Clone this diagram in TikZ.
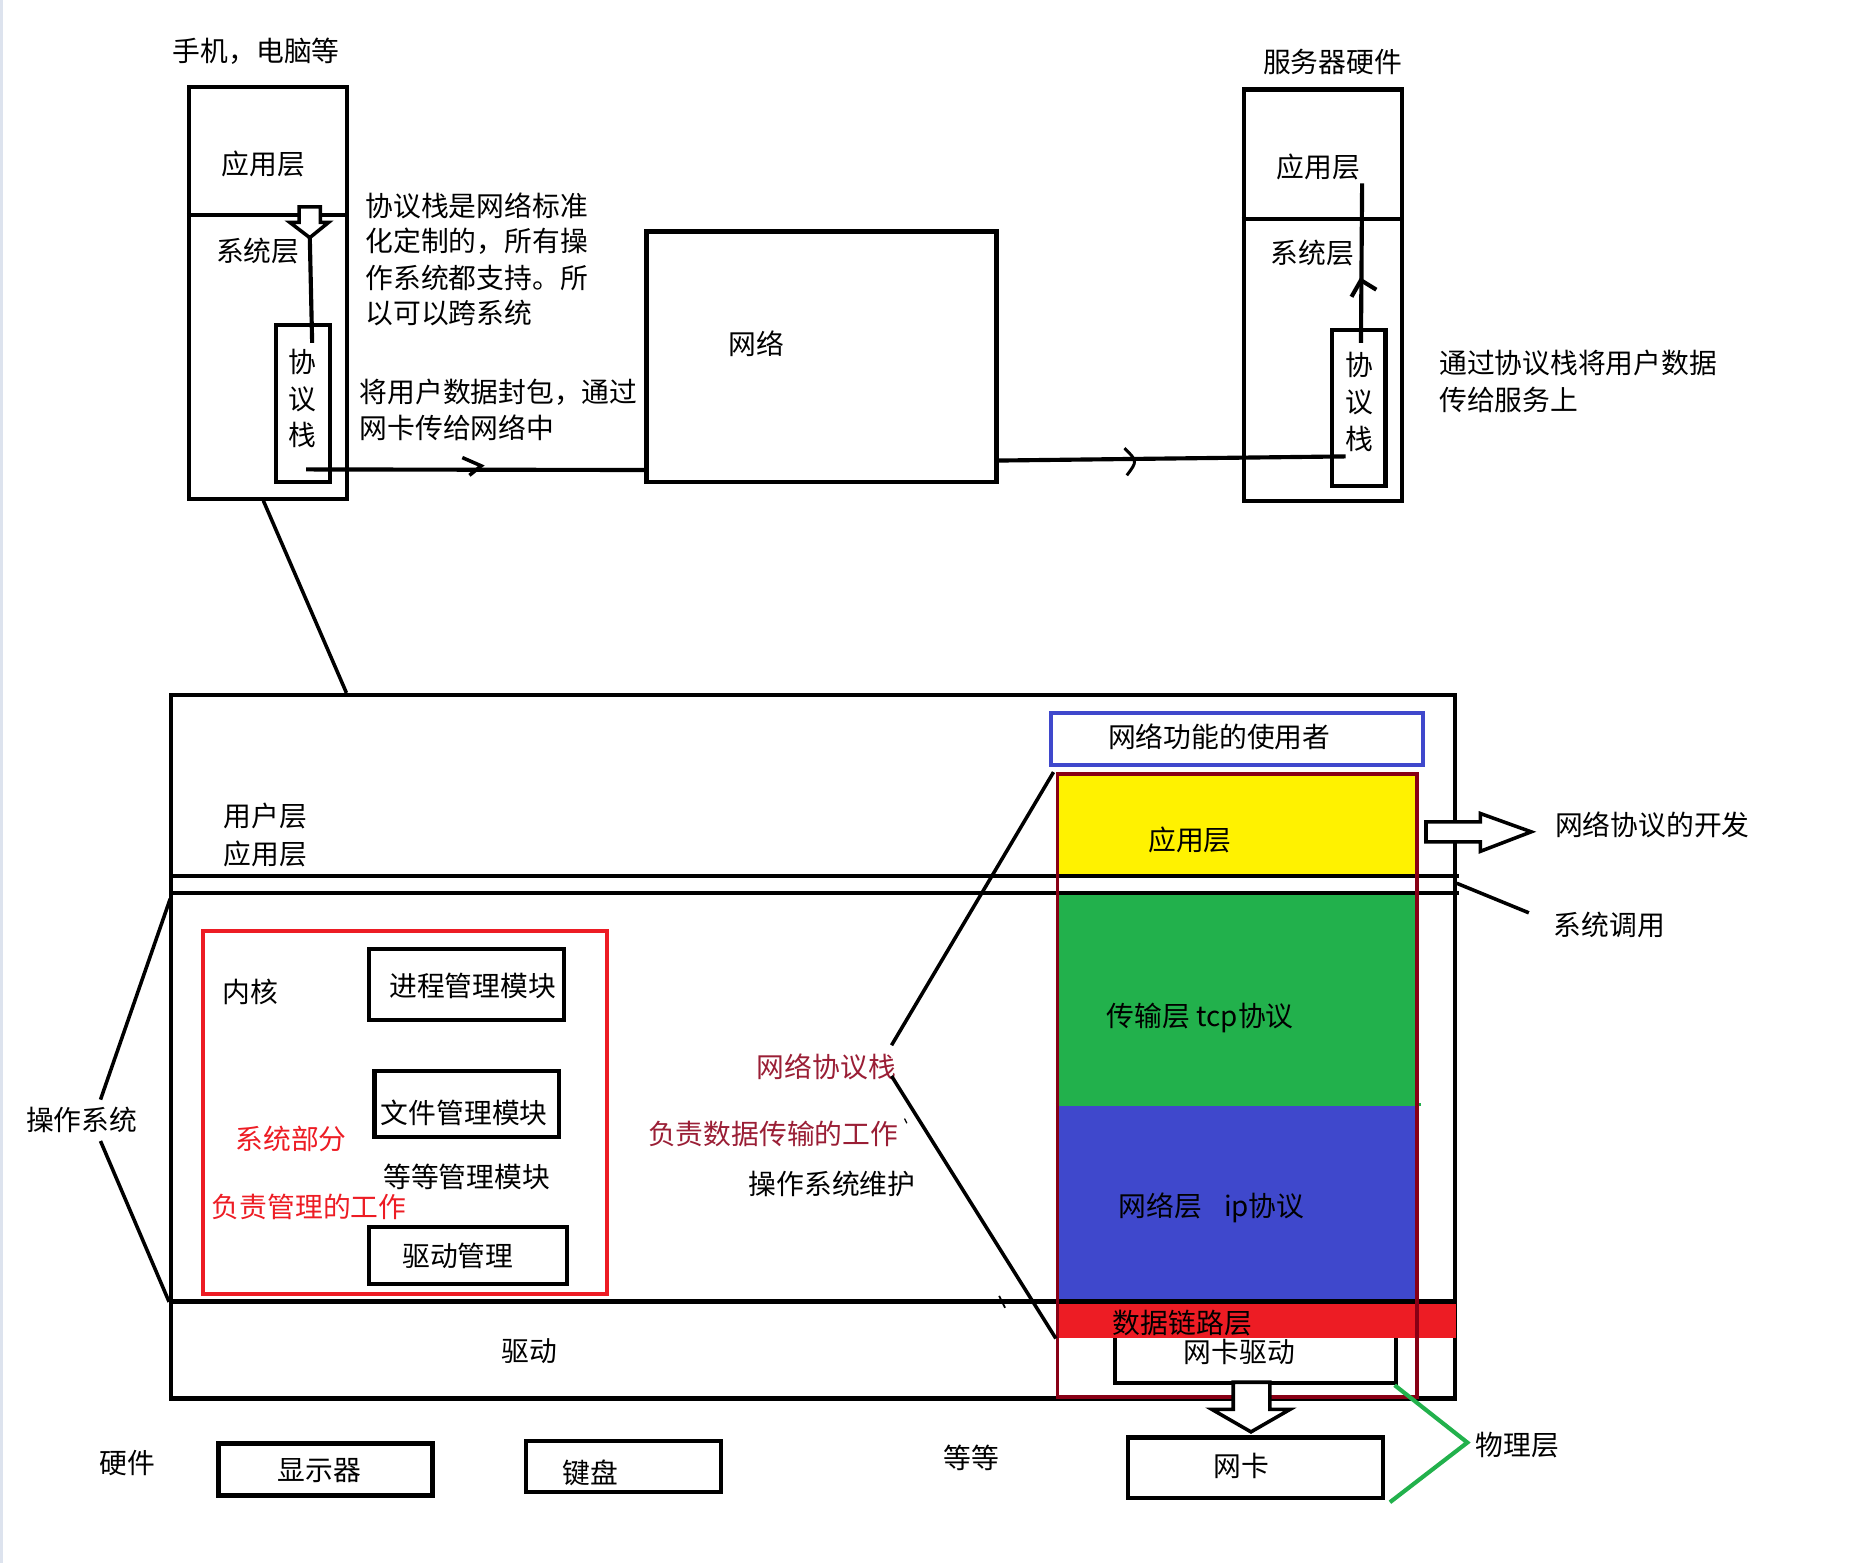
\documentclass[tikz,border=0pt]{standalone}
\usepackage{fontspec}
\newfontfamily\cjk{Noto Sans CJK SC}
\newcommand\dgfont{\cjk\fontsize{23.5}{31}\selectfont}
\definecolor{pyellow}{HTML}{FFF200}
\definecolor{pgreen}{HTML}{22B14C}
\definecolor{pblue}{HTML}{3F48CC}
\definecolor{pred}{HTML}{ED1C24}
\definecolor{pdark}{HTML}{880015}
\definecolor{ptext}{HTML}{9A1E35}
\definecolor{pstripe}{HTML}{DDE3EE}
\tikzset{
  blk/.style={draw=black, line width=3.5pt},
  box/.style={draw=black, line width=3.5pt, inner sep=0pt, anchor=north west},
  lbl/.style={font=\dgfont, inner sep=0pt, anchor=west},
  clbl/.style={font=\dgfont, inner sep=0pt, anchor=center},
  hollow/.style={draw=black, line width=3pt, fill=white, line join=miter},
}
\begin{document}
\begin{tikzpicture}[x=1pt,y=-1pt]
\useasboundingbox (0,0) rectangle (1568,1322);
\fill[pstripe] (0,0) rectangle (2.5,1322);

% ---------- top-left device ----------
\node[lbl] (devlbl) at (146,43) {手机，电脑等};
\node[box, minimum width=134pt, minimum height=348pt] (dev) at (158,72) {};
\draw[blk] ([yshift=-110pt]dev.north west) -- ([yshift=-110pt]dev.north east);
\node[clbl] (devapp) at (223,139) {应用层};
\node[clbl] (devsys) at (218,212) {系统层};
\node[box, minimum width=45pt, minimum height=133pt] (devstk) at (232,273) {};
\node[clbl, align=center] (devstktxt) at (256,337) {协\\议\\栈};
\coordinate (devarrtip) at (262,201);
\coordinate (devlineend) at (264,290);
\draw[blk] (devarrtip) -- (devlineend);
\draw[hollow] (253,175) -- (271,175) -- (271,188) -- (278,188) -- (262,201) -- (245,188) -- (253,188) -- cycle;

\node[lbl] (t1a) at (309,174) {协议栈是网络标准};
\node[lbl] (t1b) at (309,204) {化定制的，所有操};
\node[lbl] (t1c) at (309,235) {作系统都支持。所};
\node[lbl] (t1d) at (309,265) {以可以跨系统};
\node[lbl] (t2a) at (304,332) {将用户数据封包，通过};
\node[lbl] (t2b) at (304,362) {网卡传给网络中};

% ---------- network ----------
\node[box, minimum width=296pt, minimum height=212pt] (net) at (545,194) {};
\node[clbl] (nettxt) at (640,291) {网络};
\coordinate (devout) at (259,397);
\draw[blk] (devout) -- ([yshift=12pt]net.south west);
\draw[blk, line width=3pt, line join=miter] (391,387) -- (407,394) -- (397,402);

% ---------- server ----------
\node[lbl] (srvlbl) at (1068,52) {服务器硬件};
\node[box, minimum width=134pt, minimum height=348pt] (srv) at (1050,74) {};
\draw[blk] ([yshift=-111pt]srv.north west) -- ([yshift=-111pt]srv.north east);
\node[clbl] (srvapp) at (1115,141) {应用层};
\node[clbl] (srvsys) at (1110,214) {系统层};
\node[box, minimum width=45pt, minimum height=132pt] (srvstk) at (1125,277) {};
\node[clbl, align=center] (srvstktxt) at (1150,340) {协\\议\\栈};
\coordinate (srvup0) at (1151,290);
\coordinate (srvup1) at (1152,155);
\draw[blk] (srvup0) -- (srvup1);
\draw[blk] (1143,251) -- (1151,237) -- (1164,245);
\node[lbl] (t3a) at (1217,307) {通过协议栈将用户数据};
\node[lbl] (t3b) at (1217,338) {传给服务上};

\coordinate (srvin) at (1138,386);
\draw[blk] ([yshift=20pt]net.south east) -- (srvin);
\draw[line width=2.5pt] (951,379) .. controls (962,390) .. (953,402);

% ---------- right column fills ----------
\fill[pyellow] (893,653) rectangle (1197,741);
\fill[pgreen] (893,755) rectangle (1197,935);
\fill[pblue] (893,935) rectangle (1197,1101);

% ---------- OS frame ----------
\coordinate (osjoin) at (293,586);
\draw[blk, line width=3pt] ([xshift=-4pt]dev.south) -- (osjoin);
\node[box, minimum width=1086pt, minimum height=595pt] (os) at (143,586) {};
\draw[blk] (143,741) -- (1234,741);
\draw[blk] (143,755) -- (1234,755);
\draw[blk, line width=4.5pt] (143,1101) -- (1229,1101);
\node[lbl] (userL) at (189,690) {用户层};
\node[lbl] (userApp) at (189,722) {应用层};
\node[clbl] (drvL) at (448,1143) {驱动};

\node[clbl] (ossys) at (69,947) {操作系统};
\coordinate (osa) at (85,930);
\coordinate (osb) at (85,965);
\draw[blk, line width=3pt] (osa) -- (144,760);
\draw[blk, line width=3pt] (osb) -- (143,1101);

% ---------- kernel ----------
\node[box, draw=pred, line width=3pt, minimum width=342pt, minimum height=307pt] (kern) at (170,786) {};
\node[lbl] (kerntxt) at (188,839) {内核};
\node[box, minimum width=165pt, minimum height=60pt] (proc) at (310,801) {};
\node[lbl] (proctxt) at (329,834) {进程管理模块};
\node[box, minimum width=156pt, minimum height=56pt] (file) at (315,904) {};
\node[lbl] (filetxt) at (322,941) {文件管理模块};
\node[lbl, text=pred] (syspart) at (199,963) {系统部分};
\node[lbl] (etcmod) at (324,995) {等等管理模块};
\node[lbl, text=pred] (mgmt) at (179,1021) {负责管理的工作};
\node[box, minimum width=168pt, minimum height=48pt] (drv) at (310,1036) {};
\node[lbl] (drvtxt) at (340,1062) {驱动管理};

% ---------- middle labels ----------
\node[lbl, text=ptext] (nps) at (640,902) {网络协议栈};
\node[lbl, text=ptext] (npsduty) at (548,959) {负责数据传输的工作};
\node[lbl] (osmaint) at (633,1001) {操作系统维护};
\draw[line width=1pt] (765,946) -- (767,950);
\draw[line width=1.5pt] (845,1096) -- (850,1106);

% ---------- protocol stack column ----------
\node[box, minimum width=238pt, minimum height=58pt] (nicdrv) at (941,1110) {};
\fill[pred] (893,1103) rectangle (1231,1132);
\draw[pgreen, line width=3pt] (893,934) -- (1202,934);
\node[box, draw=pdark, line width=3pt, minimum width=304pt, minimum height=527pt] (stack) at (893,653) {};
\node[box, draw=pblue, line width=3.5pt, minimum width=315pt, minimum height=44pt] (user) at (887,601) {};
\node[lbl] (usertxt) at (937,623) {网络功能的使用者};
\node[lbl] (appL) at (971,710) {应用层};
\node[lbl] (transL) at (936,861) {传输层 tcp协议};
\node[lbl] (netL) at (946,1020) {网络层};
\node[lbl] (ipL) at (1035,1022) {ip协议};
\node[lbl] (linkL) at (941,1119) {数据链路层};
\node[lbl] (nicdrvtxt) at (1001,1143) {网卡驱动};

\coordinate (npsup) at (754,884);
\coordinate (npsdown) at (754,910);
\draw[blk, line width=3pt] (npsup) -- ([xshift=-2pt]stack.north west);
\draw[blk, line width=3pt] (npsdown) -- (893,1132);

% hollow arrow down to NIC
\draw[hollow] (1043,1169) -- (1074,1169) -- (1074,1192) -- (1091,1192) -- (1058,1211) -- (1025,1192) -- (1043,1192) -- cycle;
\node[box, minimum width=216pt, minimum height=51pt] (nic) at (952,1214) {};
\node[clbl] (nictxt) at (1050,1240) {网卡};
\coordinate (phyjoint) at (1241,1220);
\draw[pgreen, line width=3.5pt] ([xshift=-3pt]nicdrv.south east) -- (phyjoint) -- ([xshift=4pt,yshift=-2pt]nic.south east);
\node[lbl] (phy) at (1248,1222) {物理层};

% ---------- right side notes ----------
\draw[hollow] (1206,695) -- (1252,695) -- (1252,688) -- (1295,703.5) -- (1252,720) -- (1252,712) -- (1206,712) -- cycle;
\node[lbl] (npdev) at (1315,698) {网络协议的开发};
\coordinate (sc0) at (1232,747);
\coordinate (sc1) at (1293,772);
\draw[blk, line width=3pt] (sc0) -- (sc1);
\node[lbl] (syscall) at (1314,782) {系统调用};

% ---------- hardware ----------
\node[clbl] (hw) at (108,1237) {硬件};
\node[box, minimum width=181pt, minimum height=44pt] (mon) at (183,1219) {};
\node[clbl] (montxt) at (270,1244) {显示器};
\node[box, minimum width=165pt, minimum height=43pt] (kbd) at (443,1217) {};
\node[clbl] (kbdtxt) at (499,1246) {键盘};
\node[lbl] (etc) at (798,1233) {等等};
\end{tikzpicture}
\end{document}
